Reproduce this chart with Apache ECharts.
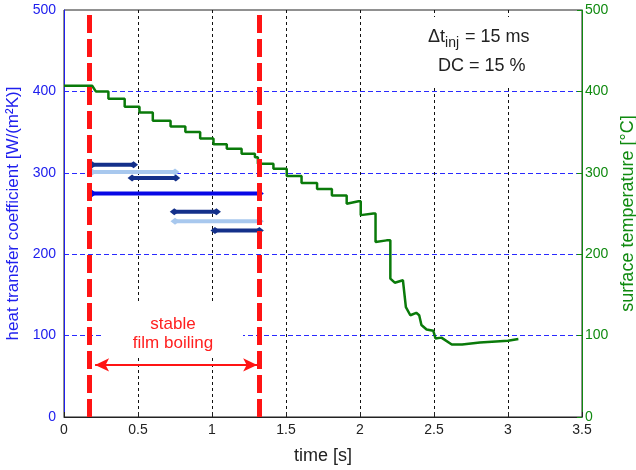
<!DOCTYPE html>
<html>
<head>
<meta charset="utf-8">
<script src="https://cdn.jsdelivr.net/npm/echarts@6/dist/echarts.min.js"></script>
<style>html,body{margin:0;padding:0;background:#fff;}#c{width:636px;height:470px;}</style>
</head>
<body>
<div id="c"></div>
<script>
// ---- data ----
var xTicks = [0, 0.5, 1, 1.5, 2, 2.5, 3, 3.5];
var yTicks = [0, 100, 200, 300, 400, 500];

// surface temperature (right axis), step curve
var tempTime = [0, 0.19, 0.215, 0.30, 0.30, 0.41, 0.41, 0.51, 0.51, 0.60, 0.60, 0.72, 0.72, 0.82, 0.82, 0.92, 0.92, 1.01, 1.01, 1.10, 1.10, 1.20, 1.20, 1.29, 1.29, 1.31, 1.31, 1.415, 1.415, 1.505, 1.505, 1.605, 1.605, 1.71, 1.71, 1.81, 1.81, 1.91, 1.91, 1.99, 2.005, 2.005, 2.09, 2.105, 2.105, 2.18, 2.205, 2.205, 2.235, 2.29, 2.31, 2.34, 2.38, 2.40, 2.415, 2.45, 2.495, 2.51, 2.55, 2.62, 2.69, 2.81, 3.0, 3.07];
var tempVal  = [407, 407, 400, 400, 391, 391, 381, 381, 374, 374, 364, 364, 357, 357, 350, 350, 342, 342, 335, 335, 329.5, 329.5, 323.5, 323.5, 319, 319, 311, 311, 305, 305, 296, 296, 287.5, 287.5, 280, 280, 272, 272, 262, 265, 265, 248, 250, 250, 215, 217, 217, 170, 165, 168, 135, 125, 128, 125, 113, 107.5, 106, 96.5, 97.5, 89, 89, 91.6, 93.6, 95.7];

// heat transfer coefficient bars (left axis)
var barStart = [0.19, 0.19, 0.46, 0.19, 0.745, 0.75, 1.02];
var barEnd   = [0.47, 0.75, 0.755, 1.32, 1.03, 1.32, 1.32];
var barValue = [310, 301, 293.5, 274.5, 252, 240.5, 229];
var barGroup = ['dark', 'light', 'dark', 'blue', 'dark', 'light', 'dark'];

// stable film boiling limits
var boilStart = 0.175, boilEnd = 1.325;
var arrowFrom = 0.21, arrowTo = 1.305, arrowLevel = 64;

var FONT = 'Liberation Sans, Arial, Helvetica, sans-serif';
var groupColor = { dark: '#14308a', light: '#a8c8ee', blue: '#0808e6' };

var chart = echarts.init(document.getElementById('c'), null, { renderer: 'canvas' });

var series = [];
series.push({
  type: 'line', yAxisIndex: 1, z: 3,
  data: tempTime.map(function (t, i) { return [t, tempVal[i]]; }),
  showSymbol: false, symbol: 'none', silent: true,
  lineStyle: { color: '#0a7a0a', width: 2.5 },
  markLine: {
    silent: true, symbol: 'none', label: { show: false },
    lineStyle: { color: '#ff1414', width: 5, type: [18, 6] },
    data: [{ xAxis: boilStart }, { xAxis: boilEnd }]
  }
});
for (var i = 0; i < barStart.length; i++) {
  series.push({
    type: 'line', yAxisIndex: 0, z: 4, silent: true,
    data: [[barStart[i], barValue[i]], [barEnd[i], barValue[i]]],
    symbol: 'diamond', symbolSize: [9, 7], showSymbol: true,
    itemStyle: { color: groupColor[barGroup[i]] },
    lineStyle: { color: groupColor[barGroup[i]], width: 4 }
  });
}
// double arrow
series.push({
  type: 'line', yAxisIndex: 0, data: [], silent: true,
  markLine: {
    silent: true, symbol: ['arrow', 'arrow'], symbolSize: [10, 14],
    label: { show: false },
    lineStyle: { color: '#ff1414', width: 2, type: 'solid' },
    data: [[{ coord: [arrowFrom, arrowLevel] }, { coord: [arrowTo, arrowLevel] }]]
  }
});

var option = {
  animation: false,
  backgroundColor: '#ffffff',
  textStyle: { fontFamily: FONT },
  grid: { left: 64, right: 54, top: 10, bottom: 53, containLabel: false, outerBoundsMode: 'none', show: true, borderColor: '#222', borderWidth: 1, backgroundColor: 'transparent' },
  xAxis: {
    type: 'value', min: xTicks[0], max: xTicks[xTicks.length - 1], interval: 0.5,
    name: 'time [s]', nameLocation: 'middle', nameGap: 30,
    nameTextStyle: { color: '#222', fontSize: 18, fontFamily: FONT },
    axisLine: { lineStyle: { color: '#222', width: 1 } },
    axisTick: { inside: true, length: 5, lineStyle: { color: '#222' } },
    axisLabel: { color: '#222', fontSize: 14, margin: 6, fontFamily: FONT },
    splitLine: { show: true, lineStyle: { color: ['rgba(0,0,0,0)', '#111', '#111', '#111', '#111', '#111', '#111', 'rgba(0,0,0,0)'], type: [3, 3], width: 1 } }
  },
  yAxis: [{
    type: 'value', min: yTicks[0], max: yTicks[yTicks.length - 1], interval: 100, position: 'left',
    name: 'heat transfer coefficient [W/(m\u00B2K)]', nameLocation: 'middle', nameGap: 35,
    nameTextStyle: { color: '#2020ee', fontSize: 17, fontFamily: FONT },
    axisLine: { show: true, lineStyle: { color: '#2020ee', width: 1 } },
    axisTick: { show: false },
    axisLabel: { color: '#2020ee', fontSize: 14, margin: 8, fontFamily: FONT },
    splitLine: { show: true, lineStyle: { color: ['rgba(0,0,0,0)', '#2a2aff', '#2a2aff', '#2a2aff', '#2a2aff', 'rgba(0,0,0,0)'], type: [5, 3], width: 1 } }
  }, {
    type: 'value', min: yTicks[0], max: yTicks[yTicks.length - 1], interval: 100, position: 'right',
    name: 'surface temperature [\u00B0C]', nameLocation: 'middle', nameGap: 36, nameRotate: 90,
    nameTextStyle: { color: '#108a10', fontSize: 18, fontFamily: FONT },
    axisLine: { show: true, lineStyle: { color: '#108a10', width: 1 } },
    axisTick: { show: true, inside: true, length: 5, lineStyle: { color: '#108a10' } },
    axisLabel: { color: '#108a10', fontSize: 14, margin: 3, fontFamily: FONT },
    splitLine: { show: false }
  }],
  graphic: [
    { type: 'rect', z: 1, shape: { x: 423, y: 17, width: 118, height: 68 }, style: { fill: '#fff' }, silent: true },
    { type: 'rect', z: 1, shape: { x: 102, y: 304, width: 141, height: 53 }, style: { fill: '#fff' }, silent: true },
    { type: 'text', z: 5, x: 428, y: 24, silent: true,
      style: { text: '\u0394t{sub|inj} = 15 ms', font: '18px ' + FONT, fill: '#222',
        rich: { sub: { fontSize: 14, fontFamily: FONT, fill: '#222', padding: [12, 1, 0, 0] } } } },
    { type: 'text', z: 5, x: 438, y: 57, silent: true,
      style: { text: 'DC = 15 %', font: '18px ' + FONT, fill: '#222' } },
    { type: 'text', z: 5, x: 173, y: 315, silent: true,
      style: { text: 'stable\nfilm boiling', font: '17px ' + FONT, fill: '#ff2020', align: 'center', verticalAlign: 'top', lineHeight: 19 } }
  ],
  series: series
};
chart.setOption(option);
</script>
</body>
</html>
